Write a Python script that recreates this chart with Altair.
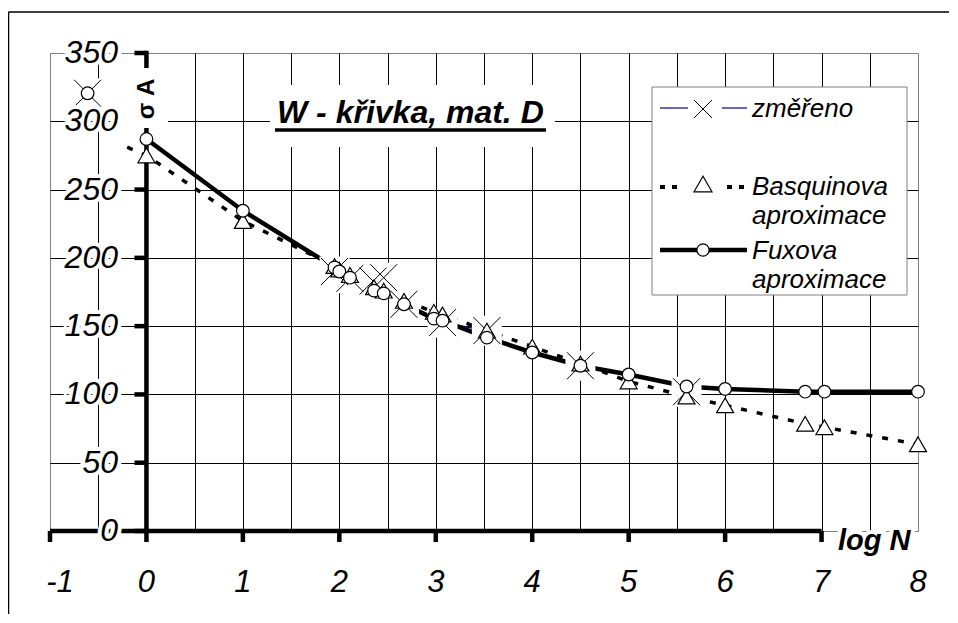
import altair as alt
import pandas as pd

# ---------------- data ----------------
MEAS_X = [1.95, 2.11, 2.35, 2.46, 2.67, 3.07, 3.53, 4.5, 5.6]
MEAS_Y = [190, 185, 183, 185.5, 166, 152.6, 146.7, 121, 102]

BASQ_X = [-0.2, 0, 1, 1.95, 2.0, 2.11, 2.36, 2.46, 2.67, 2.98, 3.07, 3.53, 4.0, 4.5, 5.0, 5.6, 6.0, 6.83, 7.03, 8.0]
BASQ_Y = [281, 275, 227, 194, 191.5, 187.5, 178.5, 176, 168.5, 160.5, 158.5, 146.7, 135, 122.6, 109.5, 98.5, 92, 78.5, 76, 63.5]
BASQ_MARK = [False, True, True, True, True, True, True, True, True, True, True, True, True, True, True, True, True, True, True, True]

FUX_X = [0, 1, 1.95, 2.0, 2.11, 2.36, 2.46, 2.67, 2.98, 3.07, 3.53, 4.0, 4.5, 5.0, 5.6, 6.0, 6.83, 7.03, 8.0]
FUX_Y = [287, 234.5, 193, 190, 185.5, 176, 174, 166, 155.5, 154, 141.6, 130.7, 121, 114.6, 105.8, 104, 102, 102, 102]

EXTRA_X = [-0.61]
EXTRA_Y = [320.5]

Y_TICKS = [0, 50, 100, 150, 200, 250, 300, 350]
Y_LABELS = ["0", "50", "100", "150", "200", "250", "300", "350"]
X_TICKS = [-1, 0, 1, 2, 3, 4, 5, 6, 7]
X_LABEL_VALUES = [-1, 0, 1, 2, 3, 4, 5, 6, 7, 8]
X_LABELS = ["-1", "0", "1", "2", "3", "4", "5", "6", "7", "8"]
GRID_X = [-0.5, 0, 0.5, 1, 1.5, 2, 2.5, 3, 3.5, 4, 4.5, 5, 5.5, 6, 6.5, 7, 7.5]
GRID_Y = [50, 100, 150, 200, 250, 300]

TITLE = "W - křivka, mat. D"
FONT = "Liberation Sans"

# ---------------- scales / axes ----------------
xs = alt.Scale(domain=[-1, 8], nice=False, zero=False)
ys = alt.Scale(domain=[0, 350], nice=False, zero=False)
xaxis = alt.Axis(values=GRID_X, grid=True, labels=False, ticks=False, domain=False, title=None,
                 gridColor="#000000", gridWidth=1, gridOpacity=1)
yaxis = alt.Axis(values=GRID_Y, grid=True, labels=False, ticks=False, domain=False, title=None,
                 gridColor="#000000", gridWidth=1, gridOpacity=1)


def X():
    return alt.X("x:Q", scale=xs, axis=xaxis)


def Y():
    return alt.Y("y:Q", scale=ys, axis=yaxis)


meas = pd.DataFrame({"x": MEAS_X, "y": MEAS_Y})
basq = pd.DataFrame({"x": BASQ_X, "y": BASQ_Y, "m": BASQ_MARK})
fux = pd.DataFrame({"x": FUX_X, "y": FUX_Y})
extra = pd.DataFrame({"x": EXTRA_X, "y": EXTRA_Y})
dummy = pd.DataFrame({"k": [0]})

XPATH = "M-1,-1L1,1M-1,1L1,-1"


def hrule(x1, x2, y, **kw):
    return alt.Chart(dummy).mark_rule(**kw).encode(x=alt.value(x1), x2=alt.value(x2), y=alt.value(y))


def vrule(x, y1, y2, **kw):
    return alt.Chart(dummy).mark_rule(**kw).encode(x=alt.value(x), y=alt.value(y1), y2=alt.value(y2))


def box(x1, y1, x2, y2, **kw):
    return alt.Chart(dummy).mark_rect(**kw).encode(
        x=alt.value(x1), x2=alt.value(x2), y=alt.value(y1), y2=alt.value(y2))


def txt(s, x, y, **kw):
    return alt.Chart(dummy).mark_text(text=s, font=FONT, **kw).encode(x=alt.value(x), y=alt.value(y))


def pt(x, y, **kw):
    return alt.Chart(dummy).mark_point(**kw).encode(x=alt.value(x), y=alt.value(y))


layers = []

# outer frame (top and left edges), kept inside the drawing
layers.append(hrule(-41.5, 899, -41, color="#000000", strokeWidth=1.5))
layers.append(vrule(-41.5, -41, 561, color="#000000", strokeWidth=1.5))

# white boxes over the grid (title, legend)
layers.append(box(220, 32, 505, 94, fill="white", strokeWidth=0))
layers.append(box(602, 34, 857, 242, fill="white", stroke="#808080", strokeWidth=1))

# thick axes
layers.append(alt.Chart(pd.DataFrame({"x": [0], "y": [0], "y2": [350]})).mark_rule(
    color="black", strokeWidth=4.5, strokeCap="square").encode(x=X(), y=Y(), y2="y2"))
layers.append(alt.Chart(pd.DataFrame({"x": [0] * len(Y_TICKS), "x2": [0] * len(Y_TICKS), "y": Y_TICKS})).mark_rule(
    color="black", strokeWidth=4.5, xOffset=-12).encode(x=X(), x2="x2", y=Y()))
layers.append(alt.Chart(pd.DataFrame({"x": [-1], "x2": [7], "y": [0]})).mark_rule(
    color="black", strokeWidth=4.5).encode(x=X(), x2="x2", y=Y()))
layers.append(alt.Chart(pd.DataFrame({"x": X_TICKS, "y": [0] * len(X_TICKS), "y2": [0] * len(X_TICKS)})).mark_rule(
    color="black", strokeWidth=4.5, y2Offset=11).encode(x=X(), y=Y(), y2="y2"))

# box behind the y axis title
layers.append(box(68, 15, 118, 75, fill="white", strokeWidth=0))

# series lines
layers.append(alt.Chart(meas).transform_filter("datum.x > 3 && datum.x < 3.6").mark_line(
    color="#000080", strokeWidth=1.5).encode(x=X(), y=Y()))
layers.append(alt.Chart(basq).mark_line(color="black", strokeWidth=3.5, strokeDash=[6, 10]).encode(x=X(), y=Y()))
layers.append(alt.Chart(fux).mark_line(color="black", strokeWidth=4.5).encode(x=X(), y=Y()))

# measured X markers with white background
for d in (extra, meas):
    layers.append(alt.Chart(d).mark_square(size=900, color="white", opacity=1, strokeWidth=0).encode(x=X(), y=Y()))
    layers.append(alt.Chart(d).mark_point(shape=XPATH, size=729, stroke="black", strokeWidth=1,
                                          filled=False, opacity=1).encode(x=X(), y=Y()))

# triangles (Basquin)
layers.append(alt.Chart(basq).transform_filter("datum.m").mark_point(
    shape="triangle-up", size=289, filled=True, fill="white", stroke="black", strokeWidth=1.2, opacity=1
).encode(x=X(), y=Y()))
# circles (Fux)
for d in (fux, extra):
    layers.append(alt.Chart(d).mark_point(
        shape="circle", size=160, filled=True, fill="white", stroke="black", strokeWidth=1.2, opacity=1
    ).encode(x=X(), y=Y()))

# tick labels with white halo
ylab = pd.DataFrame({"y": Y_TICKS, "t": Y_LABELS})
xlab = pd.DataFrame({"x": X_LABEL_VALUES, "t": X_LABELS})
for halo in (True, False):
    kw = dict(stroke="white", strokeWidth=8, fill="white") if halo else dict(fill="black")
    layers.append(alt.Chart(ylab).mark_text(align="right", baseline="middle", fontSize=32, fontStyle="italic",
                                            font=FONT, **kw).encode(x=alt.value(68), y=Y(), text="t:N"))
    layers.append(alt.Chart(xlab).transform_filter("datum.x >= 0").mark_text(
        align="center", baseline="middle", fontSize=31, fontStyle="italic", font=FONT, **kw
    ).encode(x=X(), y=alt.value(530), text="t:N"))
    layers.append(alt.Chart(xlab).transform_filter("datum.x < 0").mark_text(
        align="center", baseline="middle", fontSize=31, fontStyle="italic", font=FONT, dx=10, **kw
    ).encode(x=X(), y=alt.value(530), text="t:N"))
    layers.append(txt("log N", 788, 497, align="left", baseline="alphabetic", fontSize=29, fontStyle="italic",
                      fontWeight="bold", **kw))
layers.append(txt("σ A", 97, 46, align="center", baseline="middle", fontSize=24, fontWeight="bold",
                  angle=270, fill="black"))

# chart title
layers.append(txt(TITLE, 227, 70, align="left", baseline="alphabetic", fontSize=32, fontStyle="italic",
                  fontWeight="bold", fill="black"))
layers.append(hrule(225, 496, 77, color="black", strokeWidth=3.5))

# legend
layers.append(hrule(610, 638, 55, color="#000080", strokeWidth=1.2))
layers.append(hrule(672, 697, 55, color="#000080", strokeWidth=1.2))
layers.append(pt(653, 56, shape=XPATH, size=324, stroke="black", strokeWidth=1, filled=False, opacity=1))
layers.append(hrule(610, 630, 134, color="black", strokeWidth=4, strokeDash=[5, 7]))
layers.append(hrule(677, 697, 134, color="black", strokeWidth=4, strokeDash=[5, 7]))
layers.append(pt(653, 131, shape="triangle-up", size=324, filled=True, fill="white", stroke="black",
                 strokeWidth=1.2, opacity=1))
layers.append(hrule(610, 697, 197, color="black", strokeWidth=4.5))
layers.append(pt(653, 197, shape="circle", size=150, filled=True, fill="white", stroke="black",
                 strokeWidth=1.2, opacity=1))
for s, yy in (("změřeno", 64), ("Basquinova", 142), ("aproximace", 171), ("Fuxova", 206), ("aproximace", 235)):
    layers.append(txt(s, 702, yy, align="left", baseline="alphabetic", fontSize=26, fontStyle="italic",
                      fill="black"))

chart = alt.layer(*layers).properties(
    width=868, height=478,
    padding={"left": 42, "top": 45, "right": 32, "bottom": 84},
    autosize=alt.AutoSizeParams(type="none"),
).configure_view(stroke="#808080", strokeWidth=1)

chart.save("out.html", embed_options={"renderer": "svg", "actions": False})
